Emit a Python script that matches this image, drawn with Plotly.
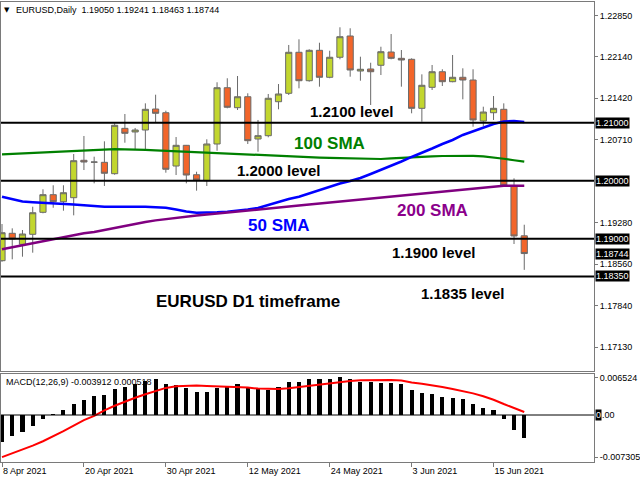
import plotly.graph_objects as go

# ---------------- data ----------------
dates = ['2021-04-08', '2021-04-09', '2021-04-12', '2021-04-13', '2021-04-14', '2021-04-15', '2021-04-16',
         '2021-04-19', '2021-04-20', '2021-04-21', '2021-04-22', '2021-04-23', '2021-04-26', '2021-04-27',
         '2021-04-28', '2021-04-29', '2021-04-30', '2021-05-03', '2021-05-04', '2021-05-05', '2021-05-06',
         '2021-05-07', '2021-05-10', '2021-05-11', '2021-05-12', '2021-05-13', '2021-05-14', '2021-05-17',
         '2021-05-18', '2021-05-19', '2021-05-20', '2021-05-21', '2021-05-24', '2021-05-25', '2021-05-26',
         '2021-05-27', '2021-05-28', '2021-05-31', '2021-06-01', '2021-06-02', '2021-06-03', '2021-06-04',
         '2021-06-07', '2021-06-08', '2021-06-09', '2021-06-10', '2021-06-11', '2021-06-14', '2021-06-15',
         '2021-06-16', '2021-06-17', '2021-06-18']

opens = [1.18621, 1.19093, 1.18903, 1.19076, 1.19455, 1.19759, 1.19638, 1.19707, 1.20352, 1.20322,
         1.20317, 1.20121, 1.20903, 1.20840, 1.20874, 1.21236, 1.21172, 1.20253, 1.20610, 1.20103,
         1.20000, 1.20633, 1.21603, 1.21259, 1.21448, 1.20719, 1.20776, 1.21362, 1.21507, 1.22214,
         1.21724, 1.22248, 1.21783, 1.22128, 1.22495, 1.21891, 1.21926, 1.21990, 1.22219, 1.22110,
         1.22093, 1.21248, 1.21610, 1.21879, 1.21707, 1.21783, 1.21736, 1.21029, 1.21172, 1.21231,
         1.19909, 1.19050]
highs = [1.19253, 1.19179, 1.19150, 1.19552, 1.19852, 1.19921, 1.19921, 1.20460, 1.20771, 1.20414,
         1.20679, 1.20990, 1.21150, 1.20909, 1.21334, 1.21483, 1.21207, 1.20753, 1.20616, 1.20155,
         1.20714, 1.21697, 1.21766, 1.21805, 1.21507, 1.21047, 1.21495, 1.21667, 1.22340, 1.22438,
         1.22266, 1.22379, 1.22241, 1.22645, 1.22628, 1.22138, 1.22034, 1.22310, 1.22529, 1.22253,
         1.22110, 1.21834, 1.21995, 1.21921, 1.22167, 1.21938, 1.21921, 1.21276, 1.21460, 1.21334,
         1.20041, 1.19241]
lows = [1.18603, 1.18645, 1.18690, 1.18759, 1.19438, 1.19534, 1.19483, 1.19403, 1.20184, 1.19955,
        1.19909, 1.20103, 1.20655, 1.20541, 1.20541, 1.21000, 1.20138, 1.20098, 1.19955, 1.19828,
        1.19909, 1.20517, 1.21248, 1.21219, 1.20633, 1.20500, 1.20748, 1.21231, 1.21478, 1.21593,
        1.21707, 1.21621, 1.21766, 1.22093, 1.21793, 1.21724, 1.21305, 1.21822, 1.22093, 1.21621,
        1.21162, 1.21017, 1.21564, 1.21633, 1.21697, 1.21403, 1.20931, 1.20943, 1.21047, 1.19897,
        1.18909, 1.18463]
closes = [1.19103, 1.18995, 1.19081, 1.19448, 1.19759, 1.19638, 1.19793, 1.20345, 1.20322, 1.20320,
          1.20128, 1.20955, 1.20817, 1.20874, 1.21231, 1.21162, 1.20197, 1.20610, 1.20098, 1.20012,
          1.20633, 1.21603, 1.21266, 1.21448, 1.20690, 1.20776, 1.21421, 1.21495, 1.22214, 1.21724,
          1.22248, 1.21783, 1.22128, 1.22483, 1.21909, 1.21921, 1.21879, 1.22224, 1.22110, 1.22081,
          1.21248, 1.21645, 1.21879, 1.21707, 1.21783, 1.21736, 1.21047, 1.21184, 1.21248, 1.19921,
          1.19047, 1.18744]

sma50 = [1.19724, 1.19684, 1.19641, 1.19628, 1.19621, 1.19612, 1.19602, 1.19590, 1.19576, 1.19559,
         1.19552, 1.19552, 1.19553, 1.19555, 1.19552, 1.19543, 1.19534, 1.19503, 1.19469, 1.19448,
         1.19448, 1.19455, 1.19466, 1.19481, 1.19503, 1.19529, 1.19581, 1.19638, 1.19684, 1.19724,
         1.19779, 1.19840, 1.19900, 1.19952, 1.19995, 1.20047, 1.20116, 1.20184, 1.20262, 1.20331,
         1.20409, 1.20478, 1.20555, 1.20633, 1.20702, 1.20788, 1.20848, 1.20917, 1.20978, 1.21021,
         1.21029, 1.21012]
sma100 = [1.20455, 1.20464, 1.20474, 1.20483, 1.20493, 1.20502, 1.20510, 1.20519, 1.20528, 1.20538,
          1.20541, 1.20543, 1.20541, 1.20540, 1.20533, 1.20524, 1.20516, 1.20509, 1.20500, 1.20491,
          1.20483, 1.20474, 1.20466, 1.20455, 1.20447, 1.20436, 1.20426, 1.20419, 1.20414, 1.20409,
          1.20403, 1.20398, 1.20393, 1.20388, 1.20383, 1.20376, 1.20369, 1.20374, 1.20384, 1.20395,
          1.20405, 1.20414, 1.20421, 1.20426, 1.20431, 1.20433, 1.20429, 1.20419, 1.20403, 1.20378,
          1.20353, 1.20328]
sma200 = [1.18817, 1.18852, 1.18886, 1.18921, 1.18955, 1.18990, 1.19029, 1.19064, 1.19095, 1.19116,
          1.19150, 1.19188, 1.19228, 1.19260, 1.19288, 1.19316, 1.19340, 1.19364, 1.19383, 1.19400,
          1.19417, 1.19433, 1.19448, 1.19466, 1.19481, 1.19495, 1.19514, 1.19533, 1.19552, 1.19571,
          1.19590, 1.19607, 1.19626, 1.19645, 1.19662, 1.19679, 1.19695, 1.19710, 1.19726, 1.19745,
          1.19764, 1.19781, 1.19798, 1.19814, 1.19831, 1.19847, 1.19862, 1.19883, 1.19903, 1.19914,
          1.19914, 1.19914]

macd_hist = [-0.00467, -0.00358, -0.00288, -0.00185, -0.00075, 0.00005, 0.00086, 0.00184, 0.00265, 0.00328,
             0.00346, 0.00444, 0.00490, 0.00530, 0.00588, 0.00617, 0.00530, 0.00519, 0.00461, 0.00403,
             0.00403, 0.00472, 0.00490, 0.00530, 0.00472, 0.00461, 0.00432, 0.00490, 0.00565, 0.00565,
             0.00622, 0.00622, 0.00622, 0.00652, 0.00622, 0.00576, 0.00565, 0.00559, 0.00548, 0.00530,
             0.00432, 0.00375, 0.00358, 0.00317, 0.00288, 0.00271, 0.00184, 0.00127, 0.00086, -0.00069,
             -0.00259, -0.003912]
macd_signal = [-0.00730, -0.00665, -0.00598, -0.00530, -0.00455, -0.00370, -0.00280, -0.00185, -0.00090, -0.00015,
               0.00080, 0.00160, 0.00235, 0.00300, 0.00360, 0.00420, 0.00470, 0.00500, 0.00510, 0.00510,
               0.00505, 0.00500, 0.00495, 0.00490, 0.00475, 0.00458, 0.00450, 0.00452, 0.00465, 0.00485,
               0.00510, 0.00535, 0.00555, 0.00570, 0.00590, 0.00602, 0.00607, 0.00608, 0.00606, 0.00600,
               0.00562, 0.00540, 0.00515, 0.00485, 0.00452, 0.00415, 0.00375, 0.00325, 0.00265, 0.00190,
               0.00120, 0.000518]

price_ticks = [1.22850, 1.22140, 1.21420, 1.20710, 1.19280, 1.18560, 1.17840, 1.17130]
levels = [1.2100, 1.2000, 1.1900, 1.1835]
macd_ticks = [0.006524, -0.007305]
tick_dates = ['2021-04-08', '2021-04-20', '2021-04-30', '2021-05-12', '2021-05-24', '2021-06-03', '2021-06-15']
tick_labels = ['8 Apr 2021', '20 Apr 2021', '30 Apr 2021', '12 May 2021', '24 May 2021', '3 Jun 2021', '15 Jun 2021']

level_texts = ['1.2100 level', '1.2000 level', '1.1900 level', '1.1835 level']
level_text_pos = [(34.1, 1.2119), (27.0, 1.20184), (42.1, 1.18766), (45.0, 1.18059)]
sma_texts = [('100 SMA', 32.0, 1.20645, '#008000'), ('200 SMA', 42.0, 1.19481, '#8b008b'),
             ('50 SMA', 27.0, 1.19228, '#0000ff')]

# ---------------- figure ----------------
x = list(range(len(dates)))
FONT = 'Liberation Sans, Arial, sans-serif'
AX = '#7a7a7a'

fig = go.Figure()
fig.add_trace(go.Scatter(x=x, y=sma100, mode='lines', line=dict(color='#008000', width=2.2),
                         hoverinfo='skip', showlegend=False))
fig.add_trace(go.Scatter(x=x, y=sma50, mode='lines', line=dict(color='#0000ff', width=2.5),
                         hoverinfo='skip', showlegend=False))
fig.add_trace(go.Scatter(x=x, y=sma200, mode='lines', line=dict(color='#800080', width=2.5),
                         hoverinfo='skip', showlegend=False))
fig.add_trace(go.Candlestick(
    x=x, open=opens, high=highs, low=lows, close=closes, whiskerwidth=0,
    increasing=dict(fillcolor='#c2d62e', line=dict(color='#6a6a6a', width=1)),
    decreasing=dict(fillcolor='#f2652a', line=dict(color='#6a6a6a', width=1)),
    hoverinfo='skip', showlegend=False))

fig.add_trace(go.Bar(x=x, y=macd_hist, width=0.4, marker=dict(color='#000000', line=dict(width=0)),
                     xaxis='x2', yaxis='y2', hoverinfo='skip', showlegend=False))
fig.add_trace(go.Scatter(x=x, y=macd_signal, mode='lines', line=dict(color='#ff0000', width=2),
                         xaxis='x2', yaxis='y2', hoverinfo='skip', showlegend=False))

xr = [-0.098, 57.81]
main_bottom = 0.1978
sub_top = 0.1913

shapes = []
for lv in levels:
    shapes.append(dict(type='line', xref='paper', x0=0, x1=1, yref='y', y0=lv, y1=lv,
                       line=dict(color='#000000', width=2), layer='above'))
shapes.append(dict(type='line', xref='paper', x0=0, x1=1, yref='y2', y0=0, y1=0,
                   line=dict(color='#000000', width=1), layer='above'))

annotations = []
for txt, (ax_, ay_) in zip(level_texts, level_text_pos):
    annotations.append(dict(x=ax_, y=ay_, xref='x', yref='y', text='<b>%s</b>' % txt, showarrow=False,
                            font=dict(family=FONT, size=15, color='#000000')))
for txt, ax_, ay_, col in sma_texts:
    annotations.append(dict(x=ax_, y=ay_, xref='x', yref='y', text='<b>%s</b>' % txt, showarrow=False,
                            font=dict(family=FONT, size=17, color=col)))
annotations.append(dict(x=24.0, y=1.17909, xref='x', yref='y', text='<b>EURUSD D1 timeframe</b>',
                        showarrow=False, font=dict(family=FONT, size=17, color='#000000')))

# boxed price labels on the right axis
for v in levels + [closes[-1]]:
    annotations.append(dict(x=1, y=v, xref='paper', yref='y', xanchor='left', yanchor='middle', xshift=1,
                            text='%.5f' % v, showarrow=False, bgcolor='#000000', borderpad=0,
                            font=dict(family=FONT, size=9, color='#ffffff')))
# zero label of MACD
annotations.append(dict(x=1, y=0, xref='paper', yref='y2', xanchor='left', yanchor='middle', xshift=1,
                        text='0', showarrow=False, bgcolor='#000000', borderpad=0,
                        font=dict(family=FONT, size=9, color='#ffffff')))
annotations.append(dict(x=1, y=0, xref='paper', yref='y2', xanchor='left', yanchor='middle', xshift=6,
                        text='.00', showarrow=False, font=dict(family=FONT, size=9, color='#000000')))

# header
annotations.append(dict(x=0, y=1, xref='paper', yref='paper', xanchor='left', yanchor='middle',
                        xshift=1, yshift=-8, showarrow=False,
                        text='\u25bc', font=dict(family='DejaVu Sans', size=7, color='#000000')))
annotations.append(dict(x=0, y=1, xref='paper', yref='paper', xanchor='left', yanchor='middle',
                        xshift=13, yshift=-8, showarrow=False,
                        text='EURUSD,Daily  %.5f %.5f %.5f %.5f' % (opens[-1], highs[-1], lows[-1], closes[-1]),
                        font=dict(family=FONT, size=9, color='#000000')))
annotations.append(dict(x=0, y=sub_top, xref='paper', yref='paper', xanchor='left', yanchor='top',
                        xshift=3, yshift=-1, showarrow=False,
                        text='MACD(12,26,9) %.6f %.6f' % (macd_hist[-1], macd_signal[-1]),
                        font=dict(family=FONT, size=9, color='#000000')))

tick_idx = [dates.index(d) for d in tick_dates]

fig.update_layout(
    width=640, height=480,
    margin=dict(l=1, r=46, t=2, b=18, autoexpand=False),
    paper_bgcolor='#ffffff', plot_bgcolor='#ffffff',
    boxgap=0.14, boxgroupgap=0.3,
    bargap=0,
    showlegend=False,
    font=dict(family=FONT, size=9, color='#000000'),
    xaxis=dict(domain=[0, 1], range=xr, anchor='y', showticklabels=False, showgrid=False, zeroline=False,
               showline=True, mirror=True, linecolor=AX, linewidth=1, rangeslider=dict(visible=False),
               automargin=False),
    yaxis=dict(domain=[main_bottom, 1], range=[1.16719, 1.23081], side='right', showgrid=False,
               zeroline=False, tickvals=price_ticks, ticktext=['%.5f' % v for v in price_ticks],
               ticks='outside', ticklen=3, tickcolor=AX, showline=True, mirror=True, linecolor=AX,
               linewidth=1, tickfont=dict(family=FONT, size=9, color='#000000'), automargin=False),
    xaxis2=dict(domain=[0, 1], range=xr, anchor='y2', showgrid=False, zeroline=False,
                tickvals=tick_idx, ticktext=tick_labels, ticks='outside', ticklen=4, tickcolor=AX,
                ticklabelposition='outside right', showline=True, mirror=True, linecolor=AX, linewidth=1,
                tickfont=dict(family=FONT, size=9, color='#000000'), automargin=False),
    yaxis2=dict(domain=[0, sub_top], range=[-0.00815, 0.00711], anchor='x2', side='right', showgrid=False,
                zeroline=False, tickvals=macd_ticks, ticktext=['%.6f' % v for v in macd_ticks],
                ticks='outside', ticklen=3, tickcolor=AX, showline=True, mirror=True, linecolor=AX,
                linewidth=1, tickfont=dict(family=FONT, size=9, color='#000000'), automargin=False),
    shapes=shapes,
    annotations=annotations,
)

fig.write_html('out.html', config={'displayModeBar': False},
               post_script="document.body.style.margin='0';document.body.style.padding='0';")
